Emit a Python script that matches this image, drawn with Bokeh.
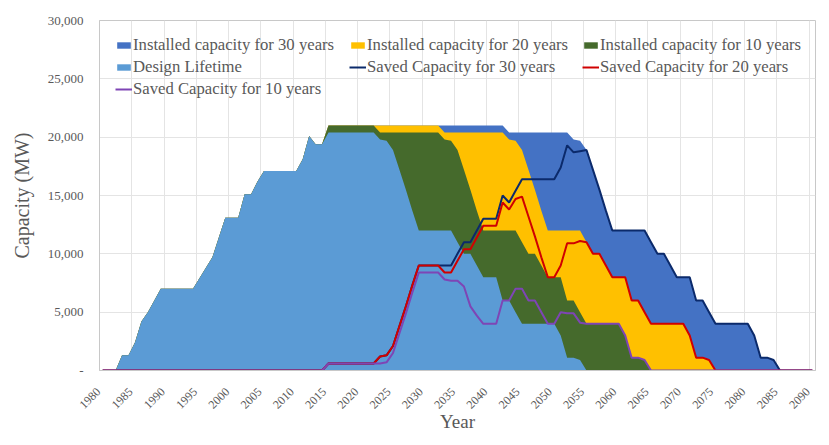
import math

from bokeh.embed import file_html
from bokeh.models import (FixedTicker, Legend, LegendItem, NumeralTickFormatter,
                          Range1d)
from bokeh.plotting import figure
from bokeh.resources import INLINE

# Calendar years on the category axis
years = list(range(1980, 2091))

# Installed capacity (MW) under the original design lifetime
design_lifetime = [
    0, 0, 0, 1300, 1300, 2400, 4200, 5000, 6000, 7000,
    7000, 7000, 7000, 7000, 7000, 7900, 8800, 9700, 11400, 13100,
    13100, 13100, 15100, 15100, 16200, 17100, 17100, 17100, 17100, 17100,
    17100, 18100, 20100, 19400, 19400, 20400, 20400, 20400, 20400, 20400,
    20400, 20400, 20400, 19800, 19700, 18900, 17200, 15500, 13700, 12000,
    12000, 12000, 12000, 12000, 12000, 11000, 10000, 10000, 9000, 8000,
    8000, 8000, 6000, 6000, 5000, 4000, 4000, 4000, 4000, 4000,
    4000, 3000, 1100, 1100, 900, 0, 0, 0, 0, 0,
    0, 0, 0, 0, 0, 0, 0, 0, 0, 0,
    0, 0, 0, 0, 0, 0, 0, 0, 0, 0,
    0, 0, 0, 0, 0, 0, 0, 0, 0, 0,
    0,
]

# Installed capacity (MW) with the lifetime extended by 10 years
installed_10 = [
    0, 0, 0, 1300, 1300, 2400, 4200, 5000, 6000, 7000,
    7000, 7000, 7000, 7000, 7000, 7900, 8800, 9700, 11400, 13100,
    13100, 13100, 15100, 15100, 16200, 17100, 17100, 17100, 17100, 17100,
    17100, 18100, 20100, 19400, 19400, 21000, 21000, 21000, 21000, 21000,
    21000, 21000, 21000, 20400, 20400, 20400, 20400, 20400, 20400, 20400,
    20400, 20400, 20400, 19800, 19700, 18900, 17200, 15500, 13700, 12000,
    12000, 12000, 12000, 12000, 12000, 11000, 10000, 10000, 9000, 8000,
    8000, 8000, 6000, 6000, 5000, 4000, 4000, 4000, 4000, 4000,
    4000, 3000, 1100, 1100, 900, 0, 0, 0, 0, 0,
    0, 0, 0, 0, 0, 0, 0, 0, 0, 0,
    0, 0, 0, 0, 0, 0, 0, 0, 0, 0,
    0,
]

# Installed capacity (MW) with the lifetime extended by 20 years
installed_20 = [
    0, 0, 0, 1300, 1300, 2400, 4200, 5000, 6000, 7000,
    7000, 7000, 7000, 7000, 7000, 7900, 8800, 9700, 11400, 13100,
    13100, 13100, 15100, 15100, 16200, 17100, 17100, 17100, 17100, 17100,
    17100, 18100, 20100, 19400, 19400, 21000, 21000, 21000, 21000, 21000,
    21000, 21000, 21000, 21000, 21000, 21000, 21000, 21000, 21000, 21000,
    21000, 21000, 21000, 20400, 20400, 20400, 20400, 20400, 20400, 20400,
    20400, 20400, 20400, 19800, 19700, 18900, 17200, 15500, 13700, 12000,
    12000, 12000, 12000, 12000, 12000, 11000, 10000, 10000, 9000, 8000,
    8000, 8000, 6000, 6000, 5000, 4000, 4000, 4000, 4000, 4000,
    4000, 3000, 1100, 1100, 900, 0, 0, 0, 0, 0,
    0, 0, 0, 0, 0, 0, 0, 0, 0, 0,
    0,
]

# Installed capacity (MW) with the lifetime extended by 30 years
installed_30 = [
    0, 0, 0, 1300, 1300, 2400, 4200, 5000, 6000, 7000,
    7000, 7000, 7000, 7000, 7000, 7900, 8800, 9700, 11400, 13100,
    13100, 13100, 15100, 15100, 16200, 17100, 17100, 17100, 17100, 17100,
    17100, 18100, 20100, 19400, 19400, 21000, 21000, 21000, 21000, 21000,
    21000, 21000, 21000, 21000, 21000, 21000, 21000, 21000, 21000, 21000,
    21000, 21000, 21000, 21000, 21000, 21000, 21000, 21000, 21000, 21000,
    21000, 21000, 21000, 20400, 20400, 20400, 20400, 20400, 20400, 20400,
    20400, 20400, 20400, 19800, 19700, 18900, 17200, 15500, 13700, 12000,
    12000, 12000, 12000, 12000, 12000, 11000, 10000, 10000, 9000, 8000,
    8000, 8000, 6000, 6000, 5000, 4000, 4000, 4000, 4000, 4000,
    4000, 3000, 1100, 1100, 900, 0, 0, 0, 0, 0,
    0,
]

# Capacity saved (MW) relative to the design lifetime
saved_10 = [
    0, 0, 0, 0, 0, 0, 0, 0, 0, 0,
    0, 0, 0, 0, 0, 0, 0, 0, 0, 0,
    0, 0, 0, 0, 0, 0, 0, 0, 0, 0,
    0, 0, 0, 0, 0, 600, 600, 600, 600, 600,
    600, 600, 600, 600, 700, 1500, 3200, 4900, 6700, 8400,
    8400, 8400, 8400, 7800, 7700, 7700, 7200, 5500, 4700, 4000,
    4000, 4000, 6000, 6000, 7000, 7000, 6000, 6000, 5000, 4000,
    4000, 5000, 4900, 4900, 4100, 4000, 4000, 4000, 4000, 4000,
    4000, 3000, 1100, 1100, 900, 0, 0, 0, 0, 0,
    0, 0, 0, 0, 0, 0, 0, 0, 0, 0,
    0, 0, 0, 0, 0, 0, 0, 0, 0, 0,
    0,
]

saved_20 = [
    0, 0, 0, 0, 0, 0, 0, 0, 0, 0,
    0, 0, 0, 0, 0, 0, 0, 0, 0, 0,
    0, 0, 0, 0, 0, 0, 0, 0, 0, 0,
    0, 0, 0, 0, 0, 600, 600, 600, 600, 600,
    600, 600, 600, 1200, 1300, 2100, 3800, 5500, 7300, 9000,
    9000, 9000, 9000, 8400, 8400, 9400, 10400, 10400, 11400, 12400,
    12400, 12400, 14400, 13800, 14700, 14900, 13200, 11500, 9700, 8000,
    8000, 9000, 10900, 10900, 11100, 11000, 10000, 10000, 9000, 8000,
    8000, 8000, 6000, 6000, 5000, 4000, 4000, 4000, 4000, 4000,
    4000, 3000, 1100, 1100, 900, 0, 0, 0, 0, 0,
    0, 0, 0, 0, 0, 0, 0, 0, 0, 0,
    0,
]

saved_30 = [
    0, 0, 0, 0, 0, 0, 0, 0, 0, 0,
    0, 0, 0, 0, 0, 0, 0, 0, 0, 0,
    0, 0, 0, 0, 0, 0, 0, 0, 0, 0,
    0, 0, 0, 0, 0, 600, 600, 600, 600, 600,
    600, 600, 600, 1200, 1300, 2100, 3800, 5500, 7300, 9000,
    9000, 9000, 9000, 9000, 9000, 10000, 11000, 11000, 12000, 13000,
    13000, 13000, 15000, 14400, 15400, 16400, 16400, 16400, 16400, 16400,
    16400, 17400, 19300, 18700, 18800, 18900, 17200, 15500, 13700, 12000,
    12000, 12000, 12000, 12000, 12000, 11000, 10000, 10000, 9000, 8000,
    8000, 8000, 6000, 6000, 5000, 4000, 4000, 4000, 4000, 4000,
    4000, 3000, 1100, 1100, 900, 0, 0, 0, 0, 0,
    0,
]

y_ticks = [0, 5000, 10000, 15000, 20000, 25000, 30000]
x_label_years = list(range(1980, 2091, 5))

FONT = "Liberation Serif"
TEXT = "#595959"
GRID = "#E4E4E4"
FIGURE_SPACE = "\u2007"

p = figure(
    width=829, height=445,
    output_backend="svg", toolbar_location=None,
    x_range=Range1d(1979.5, 2090.5), y_range=Range1d(0, 30000),
    min_border_left=99, min_border_right=14,
    min_border_top=20, min_border_bottom=75,
)
p.background_fill_color = "white"
p.border_fill_color = "white"
p.outline_line_color = "#C8C8C8"

# Overlapping areas: longest lifetime at the back
r30 = p.varea(x=years, y1=0, y2=installed_30, fill_color="#4472C4")
r20 = p.varea(x=years, y1=0, y2=installed_20, fill_color="#FFC000")
r10 = p.varea(x=years, y1=0, y2=installed_10, fill_color="#456A2C")
rd = p.varea(x=years, y1=0, y2=design_lifetime, fill_color="#5B9BD5")

l30 = p.line(years, saved_30, line_color="#0B2A6B", line_width=2)
l20 = p.line(years, saved_20, line_color="#D00000", line_width=2)
l10 = p.line(years, saved_10, line_color="#7E45B5", line_width=2)

# Axes
p.xaxis.ticker = FixedTicker(ticks=x_label_years)
# a trailing figure space lets each slanted label finish right at its year
p.xaxis.major_label_overrides = {y: f"{y}{FIGURE_SPACE}" for y in x_label_years}
p.xaxis.major_label_orientation = math.pi / 4
p.xaxis.major_tick_in = 0
p.xaxis.major_tick_out = 0
p.xaxis.major_tick_line_color = None
p.xaxis.minor_tick_line_color = None
p.xaxis.axis_line_color = "#C8C8C8"
p.xaxis.major_label_text_font = FONT
p.xaxis.major_label_text_font_size = "12px"
p.xaxis.major_label_text_color = TEXT
p.xaxis.major_label_standoff = 15
p.xaxis.axis_label = "Year"
p.xaxis.axis_label_text_font = FONT
p.xaxis.axis_label_text_font_size = "19px"
p.xaxis.axis_label_text_font_style = "normal"
p.xaxis.axis_label_text_color = TEXT
p.xaxis.axis_label_standoff = -9

p.yaxis.ticker = FixedTicker(ticks=y_ticks)
p.yaxis.formatter = NumeralTickFormatter(format="0,0")
p.yaxis.major_label_overrides = {0: "-"}
p.yaxis.major_tick_in = 0
p.yaxis.major_tick_out = 0
p.yaxis.major_tick_line_color = None
p.yaxis.minor_tick_line_color = None
p.yaxis.axis_line_color = "#C8C8C8"
p.yaxis.major_label_text_font = FONT
p.yaxis.major_label_text_font_size = "13px"
p.yaxis.major_label_text_color = TEXT
p.yaxis.major_label_standoff = 16
p.yaxis.axis_label = "Capacity (MW)"
p.yaxis.axis_label_text_font = FONT
p.yaxis.axis_label_text_font_size = "20px"
p.yaxis.axis_label_text_font_style = "normal"
p.yaxis.axis_label_text_color = TEXT
p.yaxis.axis_label_standoff = 12

# Grid lines sit between year categories, every five years
p.xgrid.ticker = FixedTicker(ticks=[y - 0.5 for y in x_label_years[1:]])
p.xgrid.grid_line_color = GRID
p.ygrid.ticker = FixedTicker(ticks=y_ticks[1:])
p.ygrid.grid_line_color = GRID


def add_legend_column(items, x, y):
    legend = Legend(
        items=items, location=(x, y), orientation="vertical",
        background_fill_alpha=0, border_line_color=None,
        label_text_font=FONT, label_text_font_size="16.7px",
        label_text_color=TEXT, glyph_width=17, glyph_height=8,
        label_standoff=1, label_height=22, spacing=0, padding=0, margin=0,
    )
    p.add_layout(legend)


add_legend_column([
    LegendItem(label="Installed capacity for 30 years", renderers=[r30]),
    LegendItem(label="Design Lifetime", renderers=[rd]),
    LegendItem(label="Saved Capacity for 10 years", renderers=[l10]),
], 16, 270)
add_legend_column([
    LegendItem(label="Installed capacity for 20 years", renderers=[r20]),
    LegendItem(label="Saved Capacity for 30 years", renderers=[l30]),
], 250, 292)
add_legend_column([
    LegendItem(label="Installed capacity for 10 years", renderers=[r10]),
    LegendItem(label="Saved Capacity for 20 years", renderers=[l20]),
], 483, 292)

open("out.html", "w").write(file_html(p, INLINE))
